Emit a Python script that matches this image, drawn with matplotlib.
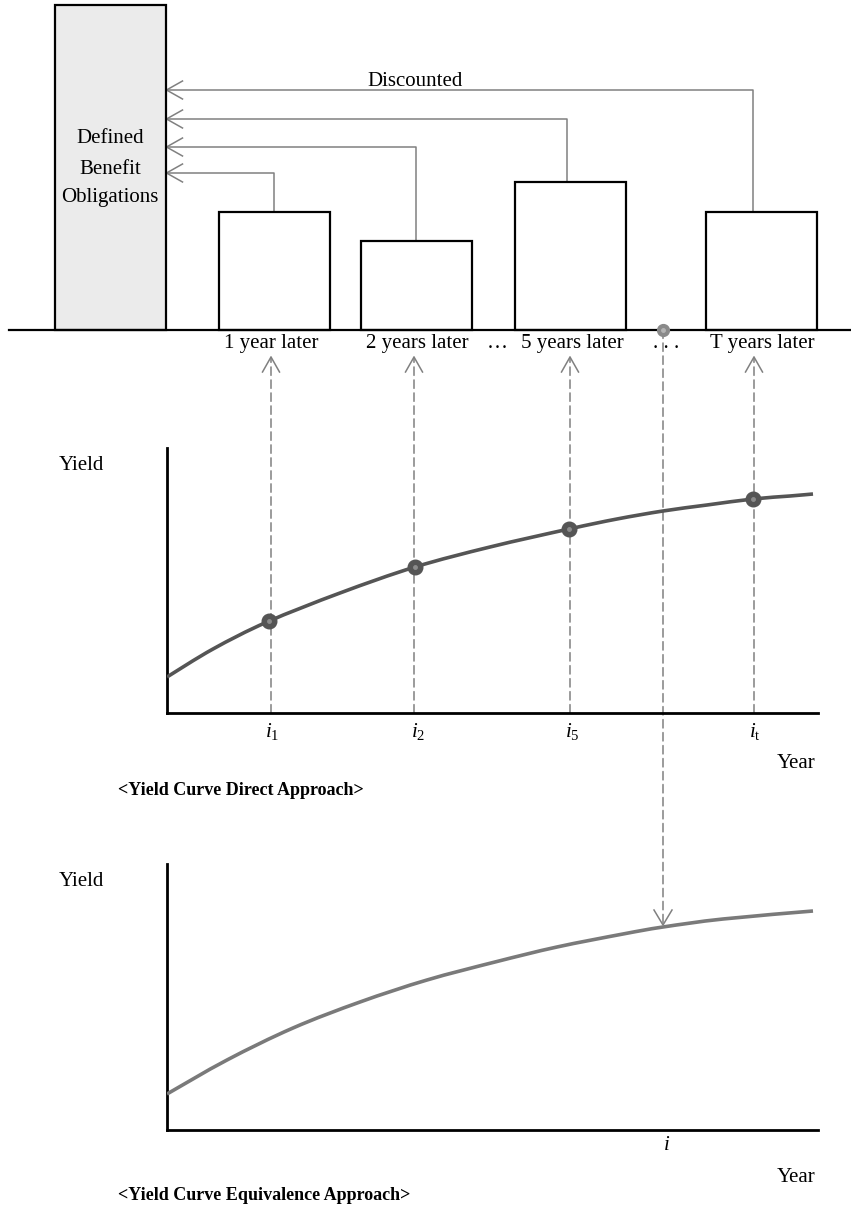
import matplotlib
matplotlib.use("Agg")
import matplotlib.pyplot as plt
from matplotlib.patches import ConnectionPatch, PathPatch
from matplotlib.path import Path

plt.rcParams["font.family"] = ["Liberation Serif", "DejaVu Serif"]
plt.rcParams["mathtext.fontset"] = "custom"
plt.rcParams["mathtext.rm"] = "Liberation Serif"
plt.rcParams["mathtext.it"] = "Liberation Serif:italic"

# ---- values ----
dbo_lines = ["Defined", "Benefit", "Obligations"]
dbo_amount = 325
cash_flow_labels = ["1 year later", "2 years later", "5 years later", "T years later"]
cash_flow_amounts = [118, 89, 148, 118]
discount_levels = [157, 183, 211, 240]
tenor_labels = [r"$i_{1}$", r"$i_{2}$", r"$i_{5}$", r"$i_{\mathrm{t}}$"]

# yield curves (term position, yield)
direct_term = [167, 213, 267, 340, 415, 490, 569, 617, 663, 707, 753, 790, 813]
direct_yield = [36, 64, 91, 120, 146, 166, 184, 194, 202, 208, 214, 217, 219]
tenor_term = [269, 415, 569, 753]
tenor_yield = [92, 146, 184, 214]
equiv_term = [167, 227, 293, 360, 427, 495, 557, 623, 663, 723, 813]
equiv_yield = [36, 70, 102, 128, 150, 168, 183, 196, 203, 211, 219]
equiv_term_point = 663
equiv_point_yield = 205

# ---- layout (pixels) ----
W, H = 851, 1215
dbo_x = 110
bar_x = [274, 416, 570.5, 761.5]
bar_w = 111
riser_x = [274, 416, 567, 753]
label_x = [271, 417, 572, 762]
up_x = [271, 414, 570, 754]
up_tip = -27
gray = "#808080"

fig = plt.figure(figsize=(W / 100, H / 100), dpi=100)


def px_axes(x0, y0, x1, y1):
    ax = fig.add_axes([x0 / W, 1 - y1 / H, (x1 - x0) / W, (y1 - y0) / H])
    ax.patch.set_visible(False)
    return ax


def smooth_curve(ax, xs, ys, **kw):
    # draw a smooth line through the read points (Catmull-Rom as Bezier)
    pts = list(zip(xs, ys))
    verts = [pts[0]]
    codes = [Path.MOVETO]
    n = len(pts)
    for i in range(n - 1):
        p0 = pts[max(i - 1, 0)]
        p1 = pts[i]
        p2 = pts[i + 1]
        p3 = pts[min(i + 2, n - 1)]
        c1 = (p1[0] + (p2[0] - p0[0]) / 6, p1[1] + (p2[1] - p0[1]) / 6)
        c2 = (p2[0] - (p3[0] - p1[0]) / 6, p2[1] - (p3[1] - p1[1]) / 6)
        verts += [c1, c2, p2]
        codes += [Path.CURVE4] * 3
    ax.add_patch(PathPatch(Path(verts, codes), fill=False, **kw))


# ---- top panel: obligations and cash flows ----
axb = px_axes(0, 0, W, 390)
axb.set_xlim(0, W)
axb.set_ylim(-60, 330)
axb.axis("off")

axb.bar([dbo_x], [dbo_amount], width=bar_w, color="#ebebeb",
        edgecolor="black", linewidth=1.6, zorder=2)
axb.bar(bar_x, cash_flow_amounts, width=bar_w, color="white",
        edgecolor="black", linewidth=1.6, zorder=2)
axb.plot([9, W], [0, 0], color="black", lw=1.6, zorder=3, clip_on=False)

edge = dbo_x + bar_w / 2 + 1
for xr, amt, lvl in zip(riser_x, cash_flow_amounts, discount_levels):
    axb.plot([xr, xr, edge], [amt, lvl, lvl], color=gray, lw=1.1, zorder=1)
    axb.plot([edge + 16, edge, edge + 16], [lvl + 9, lvl, lvl - 9],
             color=gray, lw=1.1, zorder=1, solid_joinstyle="miter")

axb.text(415, 244, "Discounted", fontsize=15, ha="center", va="baseline")
for txt, yb in zip(dbo_lines, [187, 156, 128]):
    axb.text(dbo_x, yb, txt, fontsize=15, ha="center", va="baseline")

for txt, xl in zip(cash_flow_labels, label_x):
    axb.text(xl, -18, txt, fontsize=15, ha="center", va="baseline")
axb.text(497, -18, "\u2026", fontsize=15, ha="center", va="baseline")
axb.text(666, -18, ". . .", fontsize=15, ha="center", va="baseline")

for xt in up_x:
    axb.plot([xt - 8.5, xt, xt + 8.5], [up_tip - 15, up_tip, up_tip - 15],
             color=gray, lw=1.1, solid_joinstyle="miter", clip_on=False)

axb.plot([equiv_term_point], [0], "o", ms=8.5, color="#8a8a8a", zorder=5, clip_on=False)
axb.plot([equiv_term_point], [0], "o", ms=2.5, color="#b5b5b5", zorder=6, clip_on=False)

# ---- chart axes ----
ax1 = px_axes(167, 448, 818, 713)
ax1.set_xlim(167, 818)
ax1.set_ylim(0, 265)
ax2 = px_axes(167, 864, 818, 1130)
ax2.set_xlim(167, 818)
ax2.set_ylim(0, 266)

for ax in (ax1, ax2):
    for s in ("top", "right"):
        ax.spines[s].set_visible(False)
    for s in ("left", "bottom"):
        ax.spines[s].set_linewidth(2.0)
    ax.set_xticks([])
    ax.set_yticks([])

# dashed guides
dash = (0, (5.5, 3))
for xu in up_x:
    con = ConnectionPatch(xyA=(xu, 0), coordsA=ax1.transData,
                          xyB=(xu, up_tip), coordsB=axb.transData,
                          color=gray, lw=1.1, linestyle=dash, zorder=-1)
    fig.add_artist(con)

con = ConnectionPatch(xyA=(equiv_term_point, 0), coordsA=axb.transData,
                      xyB=(equiv_term_point, equiv_point_yield), coordsB=ax2.transData,
                      color=gray, lw=1.1, linestyle=dash, zorder=-1)
fig.add_artist(con)

# ---- chart 1: yield curve direct approach ----
smooth_curve(ax1, direct_term, direct_yield, edgecolor="#555555", lw=2.6,
             zorder=3, capstyle="butt")
ax1.plot(tenor_term, tenor_yield, "o", ms=10.5, color="#555555", zorder=4)
ax1.plot(tenor_term, tenor_yield, "o", ms=2.5, color="#8c8c8c", zorder=5)

for lab, xt in zip(tenor_labels, tenor_term):
    ax1.text(xt - 4, -24, lab, fontsize=15, ha="left", va="baseline")
ax1.text(104, 243, "Yield", fontsize=15, ha="right", va="baseline")
ax1.text(815, -55, "Year", fontsize=15, ha="right", va="baseline")
ax1.text(118, -82, "<Yield Curve Direct Approach>", fontsize=13,
         fontweight="bold", ha="left", va="baseline")

# ---- chart 2: yield curve equivalence approach ----
smooth_curve(ax2, equiv_term, equiv_yield, edgecolor="#7a7a7a", lw=2.6,
             zorder=3, capstyle="butt")
xp, yp = equiv_term_point, equiv_point_yield
ax2.plot([xp - 9, xp, xp + 9], [yp + 15, yp, yp + 15], color=gray, lw=1.1,
         solid_joinstyle="miter", clip_on=False, zorder=4)

ax2.text(xp + 4, -20, r"$i$", fontsize=15, ha="center", va="baseline")
ax2.text(104, 244, "Yield", fontsize=15, ha="right", va="baseline")
ax2.text(815, -52, "Year", fontsize=15, ha="right", va="baseline")
ax2.text(118, -70, "<Yield Curve Equivalence Approach>", fontsize=13,
         fontweight="bold", ha="left", va="baseline")

fig.savefig("out.png", dpi=100)
plt.close(fig)
